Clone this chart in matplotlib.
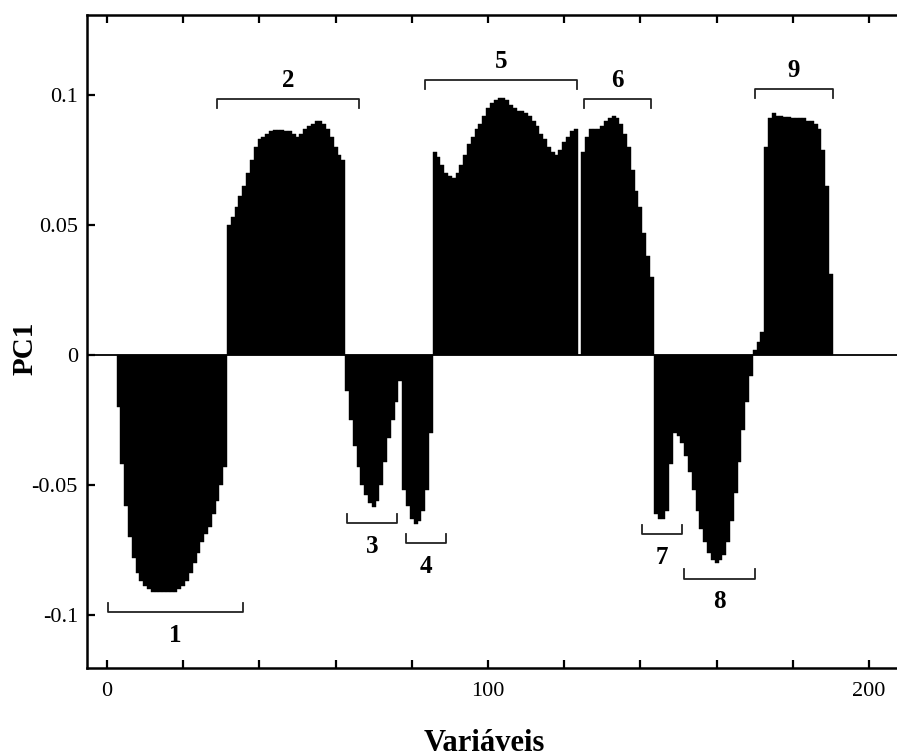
import numpy as np
import matplotlib.pyplot as plt

plt.rcParams['font.family'] = ['Liberation Serif', 'DejaVu Serif']

# PC1 loadings for variables 3..190
pc1 = [
    # group 1 (3-31)
    -0.020, -0.042, -0.058, -0.070, -0.078, -0.084, -0.087, -0.089, -0.090, -0.091,
    -0.091, -0.091, -0.091, -0.091, -0.091, -0.091, -0.090, -0.089, -0.087, -0.084,
    -0.080, -0.076, -0.072, -0.069, -0.066, -0.061, -0.056, -0.050, -0.043,
    # group 2 (32-62)
    0.050, 0.053, 0.057, 0.061, 0.065, 0.070, 0.075, 0.080, 0.083, 0.084,
    0.085, 0.086, 0.0865, 0.0865, 0.0865, 0.086, 0.086, 0.085, 0.084, 0.085,
    0.087, 0.088, 0.089, 0.090, 0.090, 0.089, 0.087, 0.084, 0.080, 0.077, 0.075,
    # group 3 (63-77)
    -0.014, -0.025, -0.035, -0.043, -0.050, -0.054, -0.057, -0.0585, -0.056, -0.050,
    -0.041, -0.032, -0.025, -0.018, -0.010,
    # group 4 (78-85)
    -0.052, -0.058, -0.063, -0.065, -0.064, -0.060, -0.052, -0.030,
    # group 5 (86-123)
    0.078, 0.076, 0.073, 0.070, 0.069, 0.068, 0.070, 0.073, 0.077, 0.081,
    0.084, 0.087, 0.089, 0.092, 0.095, 0.097, 0.098, 0.099, 0.099, 0.098,
    0.096, 0.095, 0.094, 0.094, 0.093, 0.092, 0.090, 0.088, 0.085, 0.083,
    0.080, 0.078, 0.077, 0.079, 0.082, 0.084, 0.086, 0.087,
    # 124
    0.0,
    # group 6 (125-143)
    0.078, 0.084, 0.087, 0.087, 0.087, 0.088, 0.090, 0.091, 0.092, 0.091,
    0.089, 0.085, 0.080, 0.071, 0.063, 0.057, 0.047, 0.038, 0.030,
    # groups 7 and 8 (144-169)
    -0.061, -0.063, -0.063, -0.060, -0.042, -0.030, -0.031, -0.034, -0.039, -0.045,
    -0.052, -0.060, -0.067, -0.072, -0.076, -0.079, -0.080, -0.079, -0.077, -0.072,
    -0.064, -0.053, -0.041, -0.029, -0.018, -0.008,
    # group 9 (170-190)
    0.002, 0.005, 0.009, 0.080, 0.091, 0.093, 0.092, 0.092, 0.0915, 0.0915,
    0.091, 0.091, 0.091, 0.091, 0.090, 0.090, 0.089, 0.087, 0.079, 0.065, 0.031,
]
variables = np.arange(3, 3 + len(pc1))

# groups marked with brackets
group_labels = ['1', '2', '3', '4', '5', '6', '7', '8', '9']
group_start = [0.3, 28.9, 63.1, 78.4, 83.5, 125.2, 140.4, 151.4, 170.0]
group_end = [35.7, 66.1, 76.1, 89.0, 123.4, 142.8, 150.9, 170.0, 190.6]
bracket_y = [-0.0988, 0.0985, -0.0646, -0.0723, 0.1058, 0.0985, -0.0688, -0.086, 0.1023]

fig = plt.figure(figsize=(8.97, 7.56), dpi=100)
ax = fig.add_axes([0.097, 0.1164, 0.903, 0.8638])

ax.bar(variables, pc1, width=1.0, color='black', edgecolor='black', linewidth=0.3)
ax.axhline(0, color='black', lw=1.3)

# brackets
t = 0.0035
for lab, s, e, y in zip(group_labels, group_start, group_end, bracket_y):
    d = -t if y > 0 else t
    ax.plot([s, s, e, e], [y + d, y, y, y + d], color='#222222', lw=1.3)
    ty = y + 0.007 if y > 0 else y - 0.009
    ax.text((s + e) / 2, ty, lab, ha='center', va='center',
            fontsize=18, fontweight='bold')

ax.set_xlim(-5.25, 207.35)
ax.set_ylim(-0.1204, 0.1308)
ax.set_xticks([0, 100, 200])
ax.set_xticks(np.arange(0, 201, 20), minor=True)
ax.set_yticks([-0.1, -0.05, 0, 0.05, 0.1])
ax.set_yticklabels(['-0.1', '-0.05', '0', '0.05', '0.1'])
ax.tick_params(which='both', direction='in', top=True, length=6, width=1.6)
ax.tick_params(axis='x', labelsize=16, pad=10)
ax.tick_params(axis='y', labelsize=16, pad=6.5)
ax.spines['right'].set_visible(False)
for side in ['left', 'bottom', 'top']:
    ax.spines[side].set_linewidth(1.8)

ax.set_xlabel('Variáveis', fontsize=22, fontweight='bold', va='center')
ax.xaxis.set_label_coords(0.49, -0.115)
ax.set_ylabel('PC1', fontsize=21, fontweight='bold', va='center')
ax.yaxis.set_label_coords(-0.077, 0.49)

fig.savefig('out.png', dpi=100)
